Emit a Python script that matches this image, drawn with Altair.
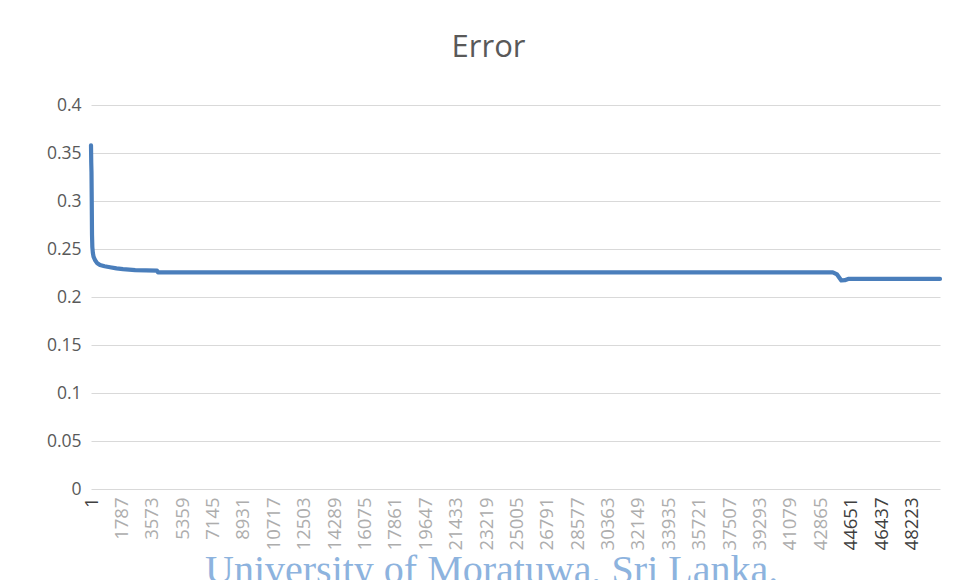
import altair as alt
import pandas as pd

# ---- data ----
iterations = [1, 15, 30, 45, 60, 80, 110, 150, 235, 350, 529, 800, 1117, 1500, 1881,
              2600, 3880, 3940, 43600, 43850, 44100, 44300, 44500, 49900]
errors = [0.358, 0.340, 0.330, 0.300, 0.265, 0.252, 0.246, 0.242, 0.2385, 0.2355, 0.2333,
          0.232, 0.231, 0.2298, 0.229, 0.228, 0.2274, 0.2257, 0.2257, 0.2235, 0.2172,
          0.2175, 0.2188, 0.2188]
x_tick_labels = [1, 1787, 3573, 5359, 7145, 8931, 10717, 12503, 14289, 16075, 17861,
                 19647, 21433, 23219, 25005, 26791, 28577, 30363, 32149, 33935, 35721,
                 37507, 39293, 41079, 42865, 44651, 46437, 48223]
y_ticks = [0, 0.05, 0.1, 0.15, 0.2, 0.25, 0.3, 0.35, 0.4]
watermark = ["University of Moratuwa, Sri Lanka."]

df = pd.DataFrame({"iteration": iterations, "error": errors})
wm = pd.DataFrame({"t": watermark})

FONT = "Open Sans"

x_enc = alt.X(
    "iteration:Q",
    scale=alt.Scale(domain=[iterations[0], iterations[-1]], nice=False, zero=False),
    axis=alt.Axis(
        values=x_tick_labels, format="d", labelAngle=-90, labelOverlap=False,
        labelFlush=False, labelBound=False, ticks=False, domain=False, grid=False,
        labelPadding=8, labelFontSize=18.5, labelFont=FONT,
        labelColor=alt.ExprRef(
            "datum.value == 1 || datum.value >= 44651 ? '#404040' : '#adadad'"
        ),
        title=None,
    ),
)
y_enc = alt.Y(
    "error:Q",
    scale=alt.Scale(domain=[0, 0.4], nice=False),
    axis=alt.Axis(
        values=y_ticks, format="~g", ticks=False, domain=False, grid=True,
        gridColor="#d9d9d9", gridWidth=1, labelPadding=10, labelFontSize=17.5,
        labelFont=FONT, labelColor="#595959", title=None,
    ),
)

line = alt.Chart(df).mark_line(
    color="#4A7EBB", strokeWidth=4.2, strokeJoin="round", strokeCap="round"
).encode(x=x_enc, y=y_enc)

wm_text = alt.Chart(wm).mark_text(
    font="Liberation Serif", fontSize=40, color="#8DB3DE", align="left",
    baseline="alphabetic",
).encode(x=alt.value(114), y=alt.value(478), text="t:N")

chart = alt.layer(line, wm_text).properties(
    width=849,
    height=384,
    autosize=alt.AutoSizeParams(type="none"),
    padding={"left": 83, "top": 97, "right": 16, "bottom": 91},
    title=alt.TitleParams(
        "Error", fontSize=31, font=FONT, color="#595959", fontWeight="normal",
        anchor="middle", offset=32, dx=-27,
    ),
    background="white",
).configure_view(stroke=None)

chart.save("out.html", embed_options={"renderer": "svg", "actions": False})
